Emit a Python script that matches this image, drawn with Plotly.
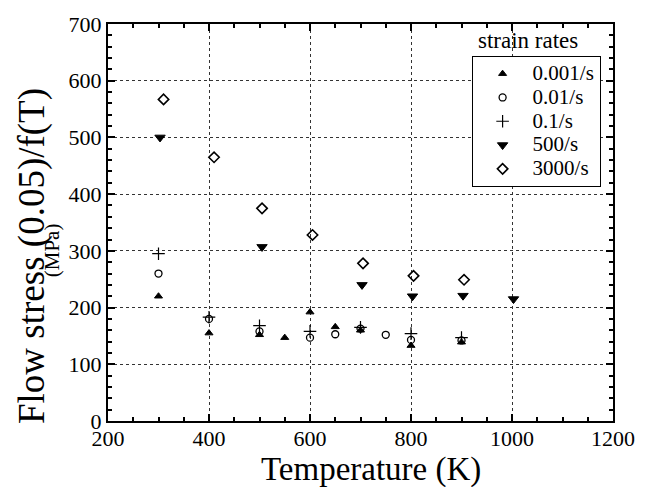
import plotly.graph_objects as go

# Data (temperature K, flow stress MPa)
T_001 = [300, 400, 500, 550, 600, 650, 700, 800, 900]
S_001 = [220, 155, 152, 147, 192, 166, 160, 133, 139]

T_01 = [300, 400, 500, 600, 650, 700, 750, 800, 900]
S_01 = [260, 180, 158, 147, 153, 163, 152, 143, 142]

T_1 = [300, 400, 500, 600, 700, 800, 900]
S_1 = [295, 183, 168, 158, 165, 154, 147]

T_500 = [303, 505, 703, 803, 903, 1003]
S_500 = [500, 307, 240, 220, 221, 215]

T_3000 = [310, 410, 505, 605, 705, 805, 905]
S_3000 = [567, 465, 375, 328, 278, 256, 249]

x_ticks = [200, 400, 600, 800, 1000, 1200]
y_ticks = [0, 100, 200, 300, 400, 500, 600, 700]

FONT = "Liberation Serif, Times New Roman, serif"

fig = go.Figure()
series = [
    ("0.001/s", T_001, S_001, "triangle-up", 7, 1),
    ("0.01/s", T_01, S_01, "circle-open", 7, 1.3),
    ("0.1/s", T_1, S_1, "cross-thin-open", 9, 1.2),
    ("500/s", T_500, S_500, "triangle-down", 9, 1),
    ("3000/s", T_3000, S_3000, "diamond-open", 8, 1.6),
]
for name, xs, ys, sym, size, lw in series:
    fig.add_trace(go.Scatter(
        x=xs, y=ys, mode="markers",
        name='<span style="font-size:21px">' + name + "</span>",
        marker=dict(symbol=sym, size=size, color="black",
                    line=dict(color="black", width=lw)),
    ))

axis_common = dict(
    showline=True, linecolor="black", linewidth=2, mirror="ticks",
    ticks="inside", ticklen=7, tickwidth=1.5, tickcolor="black",
    showgrid=True, gridcolor="#333", griddash="dot", gridwidth=1,
    zeroline=False,
    tickfont=dict(family=FONT, size=22, color="black"),
)

fig.update_xaxes(
    range=[200, 1200], tickvals=x_ticks, ticktext=[str(v) for v in x_ticks],
    minor=dict(dtick=50, ticks="inside", ticklen=4, tickcolor="black", showgrid=False),
    ticklabelstandoff=-3,
    **axis_common,
)
fig.update_yaxes(
    range=[0, 700], tickvals=y_ticks, ticktext=[str(v) for v in y_ticks],
    minor=dict(dtick=20, ticks="inside", ticklen=4, tickcolor="black", showgrid=False),
    **axis_common,
)

fig.add_annotation(
    text="Temperature (K)",
    xref="paper", yref="paper", x=0.52, y=-0.1219, xanchor="center", yanchor="middle",
    showarrow=False, font=dict(family=FONT, size=33, color="black"),
)
fig.add_annotation(
    text="Flow stress (0.05)/f(T)", textangle=-90,
    xref="paper", yref="paper", x=-0.151, y=0.415, xanchor="center", yanchor="middle",
    showarrow=False, font=dict(family=FONT, size=37, color="black"),
)
fig.add_annotation(
    text="(MPa)", textangle=-90,
    xref="paper", yref="paper", x=-0.111, y=0.43, xanchor="center", yanchor="middle",
    showarrow=False, font=dict(family=FONT, size=21, color="black"),
)
fig.add_annotation(
    text="strain rates",
    xref="paper", yref="paper", x=0.832, y=0.958, xanchor="center", yanchor="middle",
    showarrow=False, font=dict(family=FONT, size=23, color="black"),
)

fig.update_layout(
    width=647, height=487,
    margin=dict(l=108, r=23, t=19, b=66),
    paper_bgcolor="white", plot_bgcolor="white",
    showlegend=True,
    legend=dict(
        x=0.72, y=0.92, xanchor="left", yanchor="top",
        bgcolor="white", bordercolor="black", borderwidth=1,
        font=dict(family=FONT, size=16, color="black"),
        itemwidth=50, tracegroupgap=0,
    ),
)

fig.write_html("out.html")
